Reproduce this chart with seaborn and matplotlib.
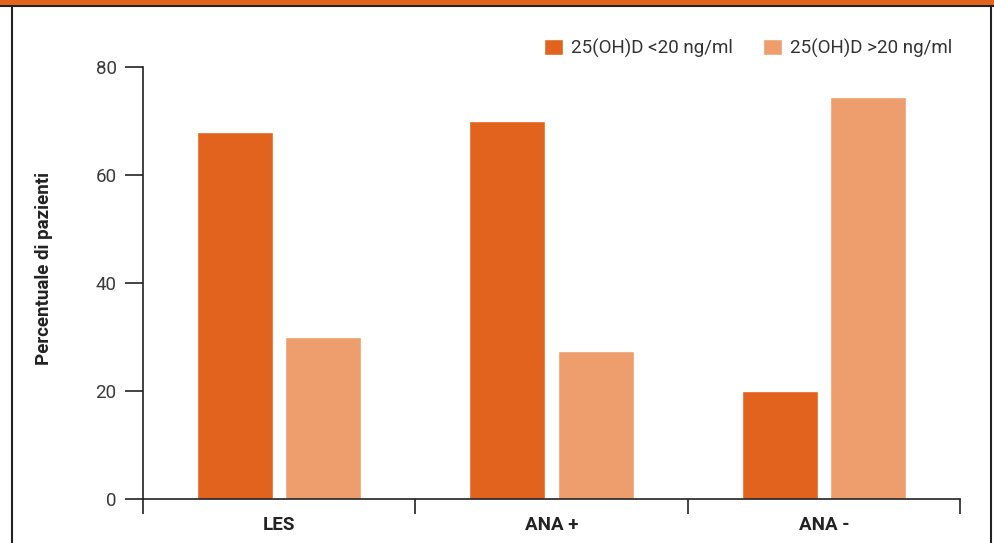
import matplotlib
matplotlib.use("Agg")
import matplotlib.pyplot as plt
from matplotlib.patches import Rectangle
from matplotlib.lines import Line2D
from matplotlib.ticker import FixedLocator
import seaborn as sns
import pandas as pd

# Data
categories = ["LES", "ANA +", "ANA -"]
series_names = ["25(OH)D <20 ng/ml", "25(OH)D >20 ng/ml"]
low_vitd = [68, 70, 20]
high_vitd = [30, 27.5, 74.5]
y_ticks = [0, 20, 40, 60, 80]

colors = ["#E2631D", "#EE9D6C"]

df = pd.DataFrame({
    "gruppo": categories * 2,
    "serie": [series_names[0]] * 3 + [series_names[1]] * 3,
    "valore": low_vitd + high_vitd,
})

sns.set_theme(style="white")
plt.rcParams["font.family"] = ["Roboto", "DejaVu Sans"]

W, H = 994, 543
fig = plt.figure(figsize=(W / 100, H / 100), dpi=100)
ax = fig.add_axes([143 / W, 1 - 499 / H, (960 - 143) / W, (499 - 67) / H])

sns.barplot(data=df, x="gruppo", y="valore", hue="serie", order=categories,
            hue_order=series_names, palette=colors, width=0.65, gap=0.14,
            saturation=1, ax=ax, legend=True)

ax.set_xlim(-0.5, 2.5)
ax.set_ylim(0, 80)
ax.set_yticks(y_ticks)
ax.set_yticklabels([str(t) for t in y_ticks], fontsize=13.5, color="#3a3a3a")
ax.set_xticks(range(len(categories)))
ax.set_xticklabels(categories, fontsize=13.5, fontweight="bold", color="#222222")
ax.xaxis.set_minor_locator(FixedLocator([-0.5, 0.5, 1.5, 2.5]))
ax.tick_params(axis="x", which="major", length=0, pad=12)
ax.tick_params(axis="x", which="minor", length=11, width=1.2, color="#222222", direction="out", bottom=True)
ax.tick_params(axis="y", which="major", length=13, width=1.2, color="#222222", direction="out", left=True, pad=6)

ax.set_xlabel("")
ax.set_ylabel("Percentuale di pazienti", fontsize=13.5, fontweight="bold", color="#222222")
ax.yaxis.set_label_coords(-90 / 817, 1 - (268 - 67) / 432)

for side in ["top", "right"]:
    ax.spines[side].set_visible(False)
for side in ["left", "bottom"]:
    ax.spines[side].set_color("#222222")
    ax.spines[side].set_linewidth(1.2)

leg = ax.legend(loc="upper right", bbox_to_anchor=(1.0, 1.0 + 36 / 432), ncol=2, frameon=False,
                fontsize=13.5, handlelength=1.0, handleheight=1.0, handletextpad=0.45,
                columnspacing=1.6, borderaxespad=0.0)
for t in leg.get_texts():
    t.set_color("#333333")

# Panel frame: orange header band with dark rule, and side borders
fig.patches.append(Rectangle((0, 1 - 5 / H), 1, 5 / H, transform=fig.transFigure,
                             facecolor="#E2631D", edgecolor="none", zorder=5))
fig.lines.append(Line2D([0, 1], [1 - 5.5 / H, 1 - 5.5 / H], transform=fig.transFigure,
                        color="#222222", linewidth=1.5))
fig.lines.append(Line2D([11.5 / W, 11.5 / W], [0, 1 - 5 / H], transform=fig.transFigure,
                        color="#222222", linewidth=1.5))
fig.lines.append(Line2D([991 / W, 991 / W], [0, 1 - 5 / H], transform=fig.transFigure,
                        color="#222222", linewidth=1.5))

fig.savefig("out.png", dpi=100)
